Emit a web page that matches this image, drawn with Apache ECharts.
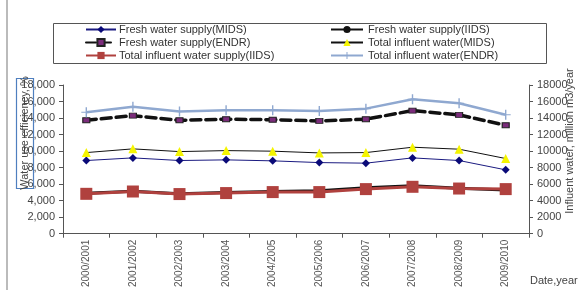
<!DOCTYPE html>
<html>
<head>
<meta charset="utf-8">
<script src="https://cdn.jsdelivr.net/npm/echarts@6/dist/echarts.min.js"></script>
<style>html,body{margin:0;padding:0;background:#fff}#c{width:580px;height:290px}</style>
</head>
<body>
<div id="c"></div>
<script>
var categories = ["2000/2001","2001/2002","2002/2003","2003/2004","2004/2005","2005/2006","2006/2007","2007/2008","2008/2009","2009/2010"];
var freshMIDS = [8860,9180,8860,8940,8820,8610,8540,9180,8860,7730];
var freshIIDS = [4900,5150,4850,5000,5100,5200,5550,5800,5500,5300];
var freshENDR = [13730,14290,13730,13860,13800,13650,13860,14900,14380,13130];
var totalMIDS = [9820,10270,9940,10060,9990,9780,9820,10470,10230,9100];
var totalIIDS = [4830,5110,4800,4920,5040,5040,5400,5680,5470,5400];
var totalENDR = [14700,15380,14780,14940,14940,14860,15140,16270,15790,14410];
var leftTicks = [0,2000,4000,6000,8000,10000,12000,14000,16000,18000];

var FONT = '"Liberation Sans", Arial, sans-serif';
var chart = echarts.init(document.getElementById('c'), null, {renderer:'canvas'});
var plusPath = 'path://M4.3,0H5.7V10H4.3Z M0,4.5H10V5.5H0Z';
var option = {
  animation:false,
  textStyle:{fontFamily:FONT},
  grid:{left:63,right:51,top:85,bottom:56},
  legend:[{
    left:85, top:24, padding:0, orient:'vertical', itemGap:2, itemWidth:30, itemHeight:9,
    textStyle:{fontFamily:FONT,fontSize:11,color:'#333',padding:[0,0,0,-2]},
    data:['Fresh water supply(MIDS)','Fresh water supply(ENDR)','Total influent water supply(IIDS)']
  },{
    left:330, top:24, padding:0, orient:'vertical', itemGap:2, itemWidth:32, itemHeight:9,
    textStyle:{fontFamily:FONT,fontSize:11,color:'#333'},
    data:['Fresh water supply(IIDS)','Total influent water(MIDS)','Total influent water(ENDR)']
  }],
  xAxis:{
    type:'category', data:categories, boundaryGap:true,
    axisLine:{lineStyle:{color:'#555',width:1}},
    axisTick:{show:true,length:4,lineStyle:{color:'#555'}},
    axisLabel:{rotate:90,fontSize:10,color:'#555',fontFamily:FONT,margin:6,interval:0}
  },
  yAxis:[{
    type:'value', min:0, max:18000, interval:2000, position:'left',
    axisLine:{show:true,lineStyle:{color:'#555'}},
    axisTick:{show:true,length:4,lineStyle:{color:'#555'}},
    splitLine:{show:false},
    axisLabel:{fontSize:11,color:'#444',fontFamily:FONT,margin:8,
      formatter:function(v){return v.toString().replace(/\B(?=(\d{3})+(?!\d))/g, ',');}}
  },{
    type:'value', min:0, max:18000, interval:2000, position:'right',
    axisLine:{show:true,lineStyle:{color:'#555'}},
    axisTick:{show:true,length:4,lineStyle:{color:'#555'}},
    splitLine:{show:false},
    axisLabel:{fontSize:11,color:'#444',fontFamily:FONT,margin:8,
      formatter:function(v){return String(v);}}
  }],
  series:[
    {name:'Fresh water supply(IIDS)',type:'line',data:freshIIDS,z:2,
     lineStyle:{color:'#111',width:3},itemStyle:{color:'#111'},symbol:'circle',symbolSize:3},
    {name:'Total influent water supply(IIDS)',type:'line',data:totalIIDS,z:3,
     lineStyle:{color:'#b0413e',width:3},itemStyle:{color:'#b0413e'},symbol:'rect',symbolSize:12},
    {name:'Fresh water supply(MIDS)',type:'line',data:freshMIDS,z:3,
     lineStyle:{color:'#1a1a80',width:1},itemStyle:{color:'#0a0a78'},symbol:'diamond',symbolSize:8},
    {name:'Total influent water(MIDS)',type:'line',data:totalMIDS,z:3,
     lineStyle:{color:'#111',width:1},itemStyle:{color:'#f5f500'},symbol:'triangle',symbolSize:9},
    {name:'Fresh water supply(ENDR)',type:'line',data:freshENDR,z:3,
     lineStyle:{color:'#111',width:3.5,type:[10,5],cap:'round'},
     itemStyle:{color:'#7b2c7b',borderColor:'#222',borderWidth:1},symbol:'rect',symbolSize:[7,5]},
    {name:'Total influent water(ENDR)',type:'line',data:totalENDR,z:3,
     lineStyle:{color:'#8fa8d0',width:2.5},itemStyle:{color:'#8fa8d0'},symbol:plusPath,symbolSize:10}
  ],
  graphic:[
    {type:'line',shape:{x1:7,y1:0,x2:7,y2:290},style:{stroke:'#bbb',lineWidth:2},silent:true},
    {type:'rect',shape:{x:53.5,y:23.5,width:493,height:40},style:{fill:'none',stroke:'#555',lineWidth:1},z:-1},
    {type:'rect',shape:{x:16.5,y:78.5,width:17,height:110},style:{fill:'none',stroke:'#4f7fbf',lineWidth:1.2},z:10},
    {type:'text',x:25,y:133,rotation:Math.PI/2,z:10,
     style:{text:'Water use efficiency, %',font:'11px '+FONT,fill:'#444',textAlign:'center',textVerticalAlign:'middle'}},
    {type:'text',x:570,y:141,rotation:Math.PI/2,z:10,
     style:{text:'Influent water, million m3/year',font:'11px '+FONT,fill:'#444',textAlign:'center',textVerticalAlign:'middle'}},
    {type:'text',x:530,y:275,z:10,
     style:{text:'Date,year',font:'11px '+FONT,fill:'#444',textAlign:'left'}}
  ]
};
chart.setOption(option);
</script>
</body>
</html>
